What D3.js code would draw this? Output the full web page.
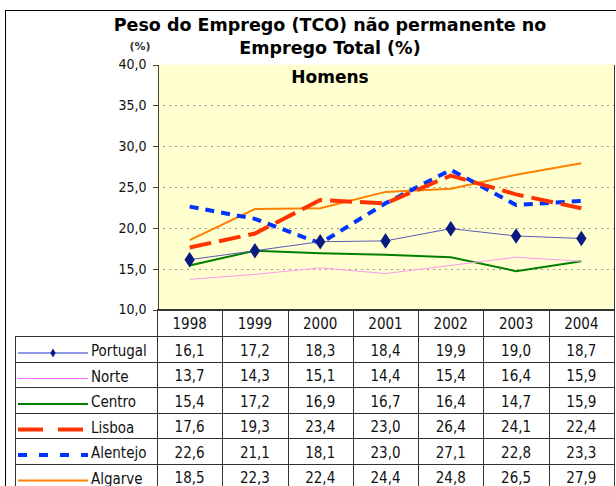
<!DOCTYPE html>
<head>
<meta charset="utf-8">
<title>Peso do Emprego (TCO) não permanente</title>
<script type="text/javascript" src="https://d3js.org/d3.v7.min.js"></script>
<style>
body { margin: 0; background: #fff; }
.axis text { fill: #111; font-family: "DejaVu Sans Condensed", "DejaVu Sans"; font-size: 14px; }
.axis path, .axis line { stroke: #444; shape-rendering: crispEdges; }
.grid line { stroke: #999; stroke-dasharray: 2,4; shape-rendering: crispEdges; }
.title { font-family: "DejaVu Sans"; font-weight: bold; font-size: 17.5px; fill: #000; }
.cell { font-family: "DejaVu Sans Condensed", "DejaVu Sans"; font-size: 15px; fill: #111; }
.tbl line { stroke: #333; stroke-width: 1; shape-rendering: crispEdges; }
</style>
</head>
<body>
<div id="container"></div>
<script>
//---------------------------DATA-------------------------------//
const years = ["1998", "1999", "2000", "2001", "2002", "2003", "2004"];
const yTicks = [10, 15, 20, 25, 30, 35, 40];
const seriesNames = ["Portugal", "Norte", "Centro", "Lisboa", "Alentejo", "Algarve"];
const portugal = [16.1, 17.2, 18.3, 18.4, 19.9, 19.0, 18.7];
const norte    = [13.7, 14.3, 15.1, 14.4, 15.4, 16.4, 15.9];
const centro   = [15.4, 17.2, 16.9, 16.7, 16.4, 14.7, 15.9];
const lisboa   = [17.6, 19.3, 23.4, 23.0, 26.4, 24.1, 22.4];
const alentejo = [22.6, 21.1, 18.1, 23.0, 27.1, 22.8, 23.3];
const algarve  = [18.5, 22.3, 22.4, 24.4, 24.8, 26.5, 27.9];

const styles = [
    {color: "#5a5ab8", width: 1, dash: null},
    {color: "#ff99ee", width: 1, dash: null},
    {color: "#008000", width: 2, dash: null},
    {color: "#ff3300", width: 4, dash: "22,8"},
    {color: "#0033ff", width: 4, dash: "9,7"},
    {color: "#ff8000", width: 2, dash: null}
];
const legendColor = ["#2233cc", "#ff66ff", "#008000", "#ff3300", "#0033ff", "#ff8000"];
const legendDash = [null, null, null, "25,15", "9,12", null];

const slices = [portugal, norte, centro, lisboa, alentejo, algarve].map(function(v, i) {
    return {id: seriesNames[i], values: v, style: styles[i]};
});

//---------------------------SVG--------------------------------//
const width = 616, height = 486;
const svg = d3.select("div#container").append("svg")
    .attr("width", width)
    .attr("height", height);

const plot = {left: 157, right: 614, top: 64.5, bottom: 309.5};
const rowH = 25.5;
const headerBottom = 336;
const legendLeft = 15;

const fmt = function(v) { return d3.format(".1f")(v).replace(".", ","); };

// outer frame
svg.append("rect")
    .attr("x", 5.5).attr("y", 10.5)
    .attr("width", 640).attr("height", 520)
    .attr("fill", "#fff")
    .attr("stroke", "#000");

//--------------------------SCALES------------------------------//
const xScale = d3.scaleBand().domain(years).range([plot.left, plot.right]);
const yScale = d3.scaleLinear().domain([10, 40]).range([plot.bottom, plot.top]);

// plot background
svg.append("rect")
    .attr("x", plot.left).attr("y", plot.top)
    .attr("width", plot.right - plot.left).attr("height", plot.bottom - plot.top)
    .attr("fill", "#ffffd0");

// grid
svg.append("g")
    .attr("class", "grid")
    .selectAll("line")
    .data(yTicks.filter(function(t) { return t > 10 && t < 40; }))
    .enter().append("line")
    .attr("x1", plot.left).attr("x2", plot.right)
    .attr("y1", function(d) { return Math.round(yScale(d)) + 0.5; })
    .attr("y2", function(d) { return Math.round(yScale(d)) + 0.5; });

svg.append("g")
    .attr("class", "axis")
    .attr("transform", "translate(" + (plot.left + 0.5) + ",0)")
    .call(d3.axisLeft(yScale).tickValues(yTicks).tickSize(5).tickPadding(6).tickFormat(fmt));

//--------------------------LINES-------------------------------//
const line = d3.line()
    .x(function(d, i) { return xScale(years[i]) + xScale.bandwidth() / 2; })
    .y(function(d) { return yScale(d); });

const lines = svg.selectAll("g.serie")
    .data(slices.slice().reverse())
    .enter().append("g")
    .attr("class", "serie");

lines.append("path")
    .attr("fill", "none")
    .attr("stroke", function(d) { return d.style.color; })
    .attr("stroke-width", function(d) { return d.style.width; })
    .attr("stroke-dasharray", function(d) { return d.style.dash; })
    .attr("d", function(d) { return line(d.values); });

svg.selectAll("path.marker")
    .data(portugal)
    .enter().append("path")
    .attr("class", "marker")
    .attr("d", d3.symbol().type(d3.symbolDiamond).size(70))
    .attr("fill", "#0a1a80")
    .attr("transform", function(d, i) {
        return "translate(" + (xScale(years[i]) + xScale.bandwidth() / 2) + "," + yScale(d) + ") scale(1.15,1)";
    });

//--------------------------TITLES------------------------------//
svg.append("text").attr("class", "title")
    .attr("x", 330).attr("y", 31).attr("text-anchor", "middle")
    .text("Peso do Emprego (TCO) não permanente no");
svg.append("text").attr("class", "title")
    .attr("x", 330).attr("y", 54).attr("text-anchor", "middle")
    .text("Emprego Total (%)");
svg.append("text").attr("class", "title")
    .attr("x", 330).attr("y", 83).attr("text-anchor", "middle")
    .style("font-size", "17px")
    .text("Homens");
svg.append("text")
    .attr("x", 140).attr("y", 50).attr("text-anchor", "middle")
    .style("font-family", "DejaVu Sans").style("font-size", "11px").style("font-weight", "bold")
    .attr("fill", "#333")
    .text("(%)");

//--------------------------TABLE-------------------------------//
const tbl = svg.append("g").attr("class", "tbl");
const nRows = slices.length;
const tableBottom = headerBottom + rowH * nRows;

// plot border / header top
tbl.append("line")
    .attr("x1", plot.left).attr("x2", plot.right + 0.5)
    .attr("y1", plot.bottom + 0.5).attr("y2", plot.bottom + 0.5)
    .style("stroke-width", 2);
tbl.append("line")
    .attr("x1", plot.right + 0.5).attr("x2", plot.right + 0.5)
    .attr("y1", plot.top).attr("y2", tableBottom);

// vertical separators
tbl.selectAll("line.vsep")
    .data(years)
    .enter().append("line")
    .attr("class", "vsep")
    .attr("x1", function(d) { return Math.round(xScale(d)) + 0.5; })
    .attr("x2", function(d) { return Math.round(xScale(d)) + 0.5; })
    .attr("y1", plot.bottom).attr("y2", tableBottom);

tbl.append("line")
    .attr("x1", legendLeft + 0.5).attr("x2", legendLeft + 0.5)
    .attr("y1", headerBottom).attr("y2", tableBottom);

// horizontal row lines
tbl.selectAll("line.hsep")
    .data(d3.range(nRows + 1))
    .enter().append("line")
    .attr("class", "hsep")
    .attr("x1", legendLeft).attr("x2", plot.right + 0.5)
    .attr("y1", function(d) { return Math.round(headerBottom + d * rowH) + 0.5; })
    .attr("y2", function(d) { return Math.round(headerBottom + d * rowH) + 0.5; });

// year header
svg.selectAll("text.year")
    .data(years)
    .enter().append("text")
    .attr("class", "cell")
    .attr("x", function(d) { return xScale(d) + xScale.bandwidth() / 2; })
    .attr("y", plot.bottom + 19)
    .attr("text-anchor", "middle")
    .text(function(d) { return d; });

const rows = svg.selectAll("g.row")
    .data(slices)
    .enter().append("g")
    .attr("class", "row")
    .attr("transform", function(d, i) { return "translate(0," + (headerBottom + i * rowH) + ")"; });

rows.selectAll("text.val")
    .data(function(d) { return d.values; })
    .enter().append("text")
    .attr("class", "cell")
    .attr("x", function(d, i) { return xScale(years[i]) + xScale.bandwidth() / 2; })
    .attr("y", 19.5)
    .attr("text-anchor", "middle")
    .text(fmt);

rows.append("text")
    .attr("class", "cell")
    .attr("x", 91).attr("y", 20)
    .text(function(d) { return d.id; });

rows.append("line")
    .attr("x1", 18).attr("x2", 88)
    .attr("y1", 17).attr("y2", 17)
    .attr("stroke", function(d, i) { return legendColor[i]; })
    .attr("stroke-width", function(d) { return d.style.width; })
    .attr("stroke-dasharray", function(d, i) { return legendDash[i]; });

rows.filter(function(d, i) { return i === 0; })
    .append("path")
    .attr("d", d3.symbol().type(d3.symbolDiamond).size(24))
    .attr("fill", "#0a1a80")
    .attr("transform", "translate(53,17)");
</script>
</body>
